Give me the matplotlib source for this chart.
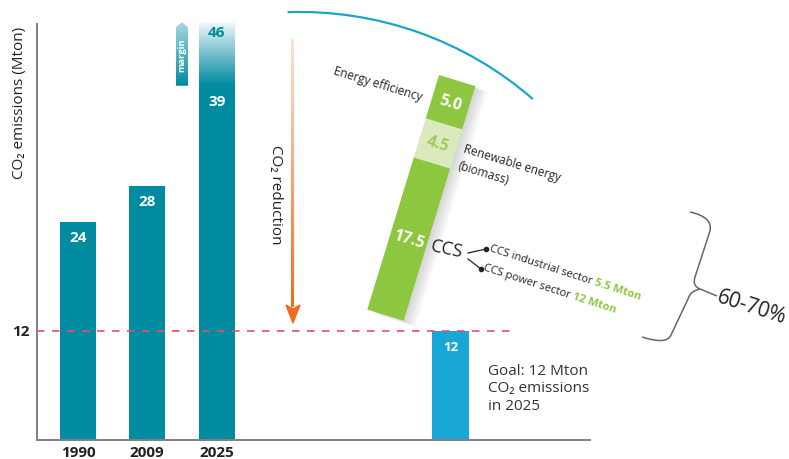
import numpy as np
import matplotlib
matplotlib.use('Agg')
import matplotlib.pyplot as plt
from matplotlib.patches import Polygon, Arc, PathPatch
from matplotlib.path import Path
from matplotlib.colors import to_rgb

plt.rcParams['font.family'] = ['Open Sans', 'DejaVu Sans']

# data
years = ['1990', '2009', '2025']
emissions = [24, 28, 39]
emissions_high = 46
goal = 12
reduction_labels = ['Energy efficiency', 'Renewable energy', '(biomass)', 'CCS']
reduction_values = [5.0, 4.5, 17.5]
ccs_labels = ['CCS industrial sector', 'CCS power sector']
ccs_values = ['5.5 Mton', '12 Mton']
share_label = '60-70%'

TEAL = '#008ba0'
CYAN = '#19a8d6'
GREEN = '#8dc63f'
PALE = '#dbeabd'
ORANGE = '#f26a1f'
DARK = '#222222'

fig = plt.figure(figsize=(7.89, 4.60), dpi=100)
px = 109 / 12  # pixels per Mton

# main axes: x in pixels, y in Mton
ax = fig.add_axes([0, 0, 1, 1])
ax.axis('off')

bar_x = [78, 147, 217]
ax.bar(bar_x, emissions, width=36, color=TEAL, zorder=2)
ax.bar(451, goal, width=37, color=CYAN, zorder=2)

# faded top of 2025 bar (margin up to 46)
grad = np.zeros((80, 1, 4))
grad[..., :3] = to_rgb(TEAL)
grad[:, 0, 3] = np.linspace(1, 0.03, 80) ** 0.9
ax.imshow(grad, extent=[199, 235, emissions[2], emissions_high], origin='lower',
          aspect='auto', zorder=2)

# margin arrow
shape = Polygon([(176, emissions[2]), (188, emissions[2]), (188, emissions_high - 0.55),
                 (182, emissions_high), (176, emissions_high - 0.55)], closed=True,
                facecolor='none', edgecolor='none')
ax.add_patch(shape)
grad2 = np.zeros((80, 1, 4))
grad2[..., :3] = to_rgb(TEAL)
grad2[:, 0, 3] = np.linspace(1, 0.35, 80)
im = ax.imshow(grad2, extent=[176, 188, emissions[2], emissions_high], origin='lower',
               aspect='auto', zorder=2)
im.set_clip_path(shape)
ax.text(182, (emissions[2] + emissions_high) / 2, 'margin', rotation=90, color='white',
        fontsize=6.8, weight='bold', ha='center', va='center', zorder=3)

ax.set_xlim(0, 789)
ax.set_ylim(-19 / px, 441 / px)

# axis lines and goal line
ax.plot([37, 37], [0, 45.8], color='#808080', lw=1.4, zorder=1)
ax.plot([37, 590], [0, 0], color='#808080', lw=1.4, zorder=3)
ax.plot([37, 510], [goal, goal], color='#e5506a', lw=1.2, ls=(0, (4.5, 4.5)), zorder=4)

for x, v in zip(bar_x, emissions):
    ax.text(x, v - 1.7, str(v), color='white', weight='bold', ha='center', va='center',
            fontsize=11, zorder=4)
ax.text(217, emissions_high - 1.1, str(emissions_high), color=TEAL, weight='bold',
        ha='center', va='center', fontsize=11, zorder=4)
ax.text(451, goal - 1.7, str(goal), color='white', weight='bold', ha='center',
        va='center', fontsize=9.5, zorder=4)
for x, lab in zip(bar_x, years):
    ax.text(x, -1.3, lab, weight='bold', ha='center', va='center', fontsize=11, color=DARK)
ax.text(21, goal, str(goal), weight='bold', ha='center', va='center', fontsize=11, color=DARK)

# decoration axes in pixel coordinates
deco = fig.add_axes([0, 0, 1, 1])
deco.axis('off')
deco.set_xlim(0, 789)
deco.set_ylim(460, 0)

deco.text(20, 103, 'CO₂ emissions (Mton)', rotation=90, ha='center', va='center',
          fontsize=11, color=DARK)

# orange reduction arrow
sh = np.zeros((80, 1, 3))
sh[:, 0, :] = np.linspace(np.array(to_rgb('#fde3d2')), np.array(to_rgb(ORANGE)), 80)
deco.imshow(sh, extent=[291.5, 294.5, 308, 40], origin='upper', aspect='auto')
deco.add_patch(Polygon([(286, 306), (293, 310), (300, 306), (293, 324)], closed=True,
                       color=ORANGE))
deco.text(276, 195, 'CO₂ reduction', rotation=-90, ha='center', va='center',
          fontsize=11, color=DARK)

# arc
deco.add_patch(Arc((300, 368), 710, 710, theta1=-92, theta2=-49, color='#1aa6c4', lw=1.6))

# tilted stacked reduction bar
theta = np.deg2rad(17)
d = np.array([-np.sin(theta), np.cos(theta)])
p = np.array([np.cos(theta), np.sin(theta)])
top = np.array([439.0, 76.0])
w = 38
cum = np.concatenate([[0], np.cumsum(reduction_values)]) * px
full = [top, top + w * p, top + cum[-1] * d + w * p, top + cum[-1] * d]
for k in range(1, 7):
    deco.add_patch(Polygon([c + np.array([2.0 * k, 1.0 * k]) for c in full], closed=True,
                           color='#777777', alpha=0.05, lw=0))
seg_colors = [GREEN, PALE, GREEN]
txt_colors = ['white', '#9fcb5c', 'white']
for i in range(3):
    a = top + cum[i] * d
    b = top + cum[i + 1] * d
    deco.add_patch(Polygon([a, a + w * p, b + w * p, b], closed=True, color=seg_colors[i], lw=0))
    c = (a + b) / 2 + w / 2 * p
    deco.text(c[0], c[1], f'{reduction_values[i]:.1f}', rotation=-17, ha='center',
              va='center', fontsize=11.5, weight='bold', color=txt_colors[i])

deco.text(378, 84, reduction_labels[0], rotation=-17, ha='center', va='center',
          fontsize=8.5, color=DARK)
deco.text(464, 149, reduction_labels[1], rotation=-17, rotation_mode='anchor', ha='left',
          va='center', fontsize=8.5, color=DARK)
deco.text(458, 166, reduction_labels[2], rotation=-17, rotation_mode='anchor', ha='left',
          va='center', fontsize=8.5, color=DARK)
deco.text(447, 250, reduction_labels[3], rotation=-12, ha='center', va='center',
          fontsize=13, color=DARK)

# CCS connectors
deco.plot([468, 486], [254, 250], color=DARK, lw=0.9, marker='o', ms=3, markevery=[1])
deco.plot([468, 481], [260, 270], color=DARK, lw=0.9, marker='o', ms=3, markevery=[1])

renderer = fig.canvas.get_renderer()


def text_pair(x, y, t1, t2, rot, fs):
    deco.text(x, y, t1, rotation=rot, rotation_mode='anchor', ha='left', va='center',
              fontsize=fs, color=DARK)
    tmp = deco.text(0, 0, t1 + ' ', fontsize=fs)
    wd = tmp.get_window_extent(renderer).width
    tmp.remove()
    ang = np.deg2rad(rot)
    deco.text(x + wd * np.cos(ang), y - wd * np.sin(ang), t2, rotation=rot,
              rotation_mode='anchor', ha='left', va='center', fontsize=fs,
              weight='bold', color=GREEN)


text_pair(490, 249, ccs_labels[0], ccs_values[0], -18, 8)
text_pair(484, 268, ccs_labels[1], ccs_values[1], -18, 8)

# brace
verts = [(690, 213), (713, 218), (710, 232), (695, 278), (692, 287), (700, 290), (717, 297),
         (700, 290), (690, 292), (688, 300), (671, 336), (667, 346), (642, 338)]
codes = [Path.MOVETO, Path.CURVE3, Path.CURVE3, Path.LINETO, Path.CURVE3, Path.CURVE3,
         Path.LINETO, Path.MOVETO, Path.CURVE3, Path.CURVE3, Path.LINETO, Path.CURVE3,
         Path.CURVE3]
deco.add_patch(PathPatch(Path(verts, codes), facecolor='none', edgecolor='#666666', lw=1.1))
deco.text(752, 308, share_label, rotation=-18, ha='center', va='center', fontsize=15,
          color=DARK)

deco.text(488, 389, f'Goal: {goal} Mton\nCO₂ emissions\nin 2025', ha='left', va='center',
          fontsize=11, linespacing=1.2, color='#333333')

fig.savefig('out.png', dpi=100)
